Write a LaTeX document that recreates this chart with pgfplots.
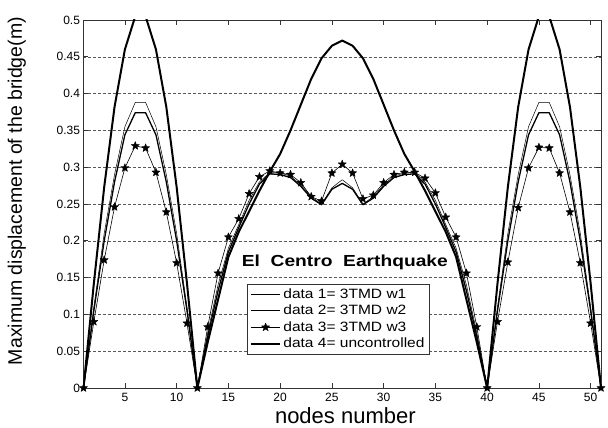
\documentclass[border=0pt]{standalone}
\usepackage{fontspec}
\setmainfont{Liberation Sans}
\newfontfamily\legfont{Liberation Sans}[FakeStretch=1.15]
\newfontfamily\titfont{Liberation Sans}[FakeStretch=1.2]
\usepackage{pgfplots}
\usepackage{pgfplotstable}
\pgfplotsset{compat=1.18}

% filled five-pointed star
\pgfdeclareplotmark{fstar}{%
  \pgfpathmoveto{\pgfpointpolar{90}{\pgfplotmarksize}}%
  \pgfpathlineto{\pgfpointpolar{126}{0.42\pgfplotmarksize}}%
  \pgfpathlineto{\pgfpointpolar{162}{\pgfplotmarksize}}%
  \pgfpathlineto{\pgfpointpolar{198}{0.42\pgfplotmarksize}}%
  \pgfpathlineto{\pgfpointpolar{234}{\pgfplotmarksize}}%
  \pgfpathlineto{\pgfpointpolar{270}{0.42\pgfplotmarksize}}%
  \pgfpathlineto{\pgfpointpolar{306}{\pgfplotmarksize}}%
  \pgfpathlineto{\pgfpointpolar{342}{0.42\pgfplotmarksize}}%
  \pgfpathlineto{\pgfpointpolar{18}{\pgfplotmarksize}}%
  \pgfpathlineto{\pgfpointpolar{54}{0.42\pgfplotmarksize}}%
  \pgfpathclose
  \pgfusepathqfillstroke}

\pgfplotstableread{
x d1 d2 d3 d4
1 0 0 0 0
2 0.11 0.105 0.09 0.142
3 0.21 0.2 0.174 0.273
4 0.29 0.28 0.246 0.382
5 0.355 0.344 0.299 0.46
6 0.388 0.374 0.329 0.505
7 0.388 0.374 0.326 0.505
8 0.355 0.344 0.293 0.46
9 0.29 0.28 0.239 0.382
10 0.21 0.2 0.17 0.273
11 0.11 0.105 0.088 0.142
12 0 0 0 0
13 0.075 0.07 0.083 0.062
14 0.14 0.132 0.156 0.12
15 0.19 0.185 0.205 0.178
16 0.222 0.218 0.23 0.212
17 0.255 0.25 0.264 0.24
18 0.28 0.277 0.287 0.268
19 0.293 0.291 0.295 0.294
20 0.292 0.29 0.292 0.318
21 0.288 0.286 0.29 0.35
22 0.276 0.274 0.279 0.385
23 0.26 0.258 0.26 0.42
24 0.25 0.249 0.254 0.448
25 0.272 0.27 0.292 0.465
26 0.283 0.278 0.304 0.472
27 0.272 0.27 0.292 0.465
28 0.25 0.249 0.257 0.448
29 0.26 0.258 0.262 0.42
30 0.276 0.274 0.279 0.385
31 0.288 0.286 0.29 0.35
32 0.292 0.29 0.293 0.318
33 0.293 0.291 0.293 0.294
34 0.28 0.277 0.285 0.268
35 0.255 0.25 0.265 0.24
36 0.222 0.218 0.232 0.212
37 0.19 0.185 0.205 0.178
38 0.14 0.132 0.156 0.12
39 0.075 0.07 0.083 0.062
40 0 0 0 0
41 0.11 0.105 0.09 0.142
42 0.21 0.2 0.171 0.273
43 0.29 0.28 0.245 0.382
44 0.355 0.344 0.299 0.46
45 0.388 0.374 0.327 0.505
46 0.388 0.374 0.326 0.505
47 0.355 0.344 0.292 0.46
48 0.29 0.28 0.239 0.382
49 0.21 0.2 0.17 0.273
50 0.11 0.105 0.088 0.142
51 0 0 0 0
}\bridge

\begin{document}
\begin{tikzpicture}
\begin{axis}[
  at={(0,0)}, anchor=south west,
  scale only axis, width=517.5pt, height=368pt,
  xmin=1, xmax=51, ymin=0, ymax=0.5,
  xtick={5,10,...,50},
  ytick={0,0.05,...,0.5},
  tick align=inside, major tick length=5pt,
  ymajorgrids, major grid style={black!65, dash pattern=on 3pt off 2pt, line width=0.5pt},
  axis line style={black!80, line width=0.6pt},
  tick style={black!80, line width=0.6pt},
  ticklabel style={font=\fontsize{12}{12}\selectfont},
  yticklabel style={/pgf/number format/.cd, fixed, precision=2, assume math mode=true},
  xticklabel style={/pgf/number format/assume math mode=true, yshift=-2pt},
  xlabel={nodes number},
  ylabel={Maximum displacement of the bridge(m)},
  xlabel style={font=\fontsize{22}{22}\selectfont, at={(axis description cs:0.506,-0.076)}, anchor=center},
  ylabel style={font=\fontsize{19.5}{20}\selectfont, at={(axis description cs:-0.129,0.535)}, anchor=center},
  legend cell align=left,
  legend style={font=\legfont\fontsize{13.5}{13.5}\selectfont, at={(0.316,0.283)}, anchor=north west,
    draw=black!80, line width=0.6pt, inner sep=2.5pt, row sep=1.2pt},
  legend image code/.code={\draw[mark repeat=2, mark phase=2, #1] plot coordinates {(0cm,0cm) (0.52cm,0cm) (1.04cm,0cm)};},
  every axis plot/.append style={black, line join=round},
]
\addplot[line width=0.5pt] table[x=x, y=d1] {\bridge};
\addlegendentry{data 1= 3TMD w1}
\addplot[line width=1.3pt] table[x=x, y=d2] {\bridge};
\addlegendentry{data 2= 3TMD w2}
\addplot[line width=0.6pt, mark=fstar, mark size=4.3pt, mark options={line width=0.4pt}] table[x=x, y=d3] {\bridge};
\addlegendentry{data 3= 3TMD w3}
\addplot[line width=2pt] table[x=x, y=d4] {\bridge};
\addlegendentry{data 4= uncontrolled}
\node[font=\titfont\bfseries\fontsize{16}{16}\selectfont, anchor=center] at (axis description cs:0.505,0.342) {El\ \ Centro\ \ Earthquake};
\end{axis}
\pgfresetboundingbox
\useasboundingbox (-83.5pt,-40pt) rectangle (524.5pt,388pt);
\end{tikzpicture}
\end{document}
